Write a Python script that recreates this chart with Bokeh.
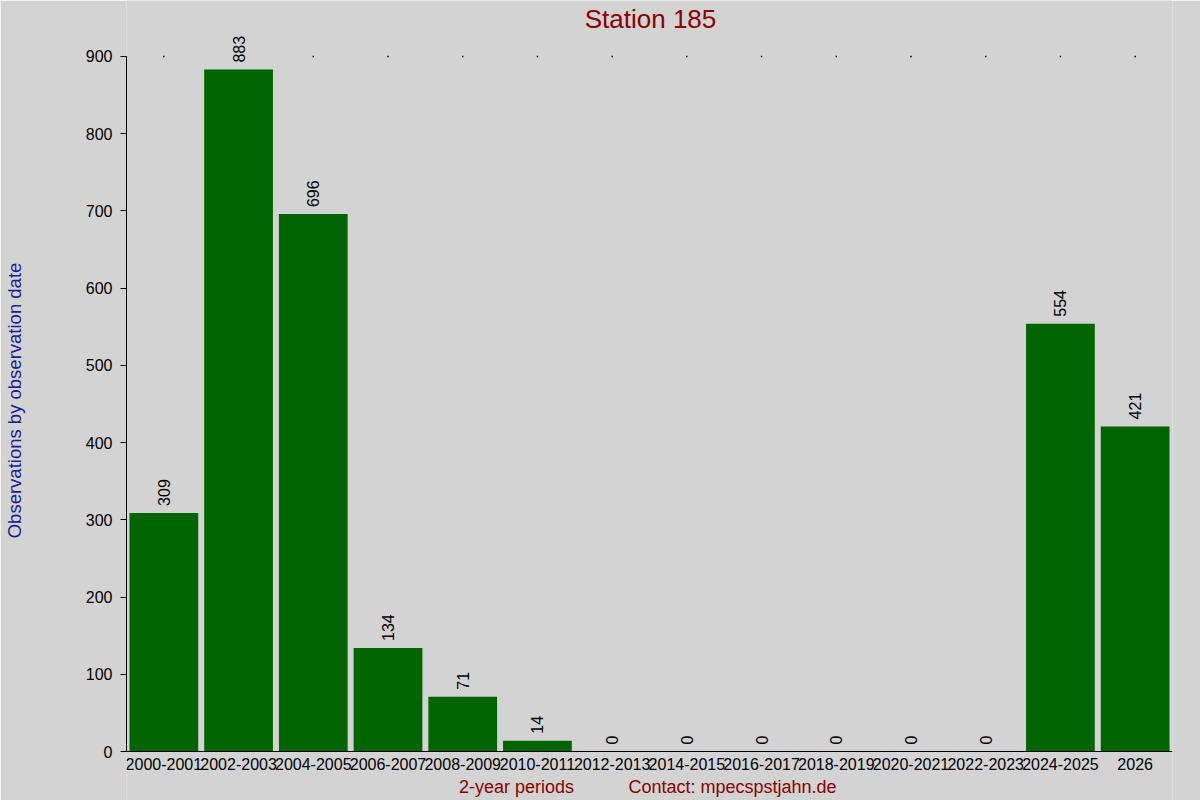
import math
from bokeh.plotting import figure
from bokeh.models import ColumnDataSource, Range1d, FixedTicker, Label
from bokeh.core.properties import value
from bokeh.embed import file_html
from bokeh.resources import INLINE

categories = ["2000-2001", "2002-2003", "2004-2005", "2006-2007", "2008-2009",
              "2010-2011", "2012-2013", "2014-2015", "2016-2017", "2018-2019",
              "2020-2021", "2022-2023", "2024-2025", "2026"]
counts = [309, 883, 696, 134, 71, 14, 0, 0, 0, 0, 0, 0, 554, 421]
y_ticks = [0, 100, 200, 300, 400, 500, 600, 700, 800, 900]

title_text = "Station 185"
x_title = "2-year periods"
contact_text = "Contact: mpecspstjahn.de"
y_title = "Observations by observation date"

BG = "#d3d3d3"
FONT = "Liberation Sans"
W, H = 1200, 800

src = ColumnDataSource(dict(cat=categories, val=counts, lbl=[str(v) for v in counts],
                            top=[y_ticks[-1]] * len(categories)))

# The frame spans the full canvas height; extra range below 0 and above 900 holds the texts.
p = figure(x_range=categories, y_range=Range1d(-63.45, 972.5), width=W, height=H,
           output_backend="svg", toolbar_location=None,
           min_border_left=126, min_border_right=28, min_border_top=0, min_border_bottom=0)
p.background_fill_color = BG
p.border_fill_color = BG
p.outline_line_color = None
p.grid.grid_line_color = None

p.vbar(x="cat", top="val", width=0.92, source=src, fill_color="#006400", line_color=None)
p.scatter(x="cat", y="top", source=src, marker="square", size=1.5,
          fill_color="black", line_color=None)
p.text(x="cat", y="val", text="lbl", source=src, angle=math.pi / 2,
       text_align="left", text_baseline="middle", y_offset=-7,
       text_font=value(FONT), text_font_size="16px", text_color="black")

xa = p.xaxis[0]
xa.fixed_location = 0
xa.major_tick_line_color = None
xa.major_tick_out = 0
xa.major_tick_in = 0
xa.minor_tick_line_color = None
xa.major_label_standoff = 6
xa.major_label_text_font = FONT
xa.major_label_text_font_size = "16px"
xa.major_label_text_color = "black"
xa.axis_line_color = "black"

ya = p.yaxis[0]
ya.ticker = FixedTicker(ticks=y_ticks)
ya.bounds = (y_ticks[0], y_ticks[-1])
ya.major_tick_out = 6
ya.major_tick_in = 0
ya.minor_tick_line_color = None
ya.major_label_standoff = 8
ya.major_label_text_font = FONT
ya.major_label_text_font_size = "16px"
ya.major_label_text_color = "black"
ya.axis_line_color = "black"
ya.axis_label = y_title
ya.axis_label_standoff = 58
ya.axis_label_text_font = FONT
ya.axis_label_text_font_size = "18.5px"
ya.axis_label_text_font_style = "normal"
ya.axis_label_text_color = "#1a1a9a"

# texts inside the frame, positioned in frame-relative screen pixels
p.add_layout(Label(x=524, y=782, x_units="screen", y_units="screen", text=title_text,
                   text_align="center", text_baseline="middle", text_font=FONT,
                   text_font_size="26px", text_color="#8b0000"))
p.add_layout(Label(x=390, y=14, x_units="screen", y_units="screen", text=x_title,
                   text_align="center", text_baseline="middle", text_font=FONT,
                   text_font_size="18px", text_color="#8b0000"))
p.add_layout(Label(x=606, y=14, x_units="screen", y_units="screen", text=contact_text,
                   text_align="center", text_baseline="middle", text_font=FONT,
                   text_font_size="18px", text_color="#8b0000"))

html = file_html(p, INLINE)
html = html.replace("<body>", '<body style="background:%s">' % BG, 1)
open("out.html", "w").write(html)
